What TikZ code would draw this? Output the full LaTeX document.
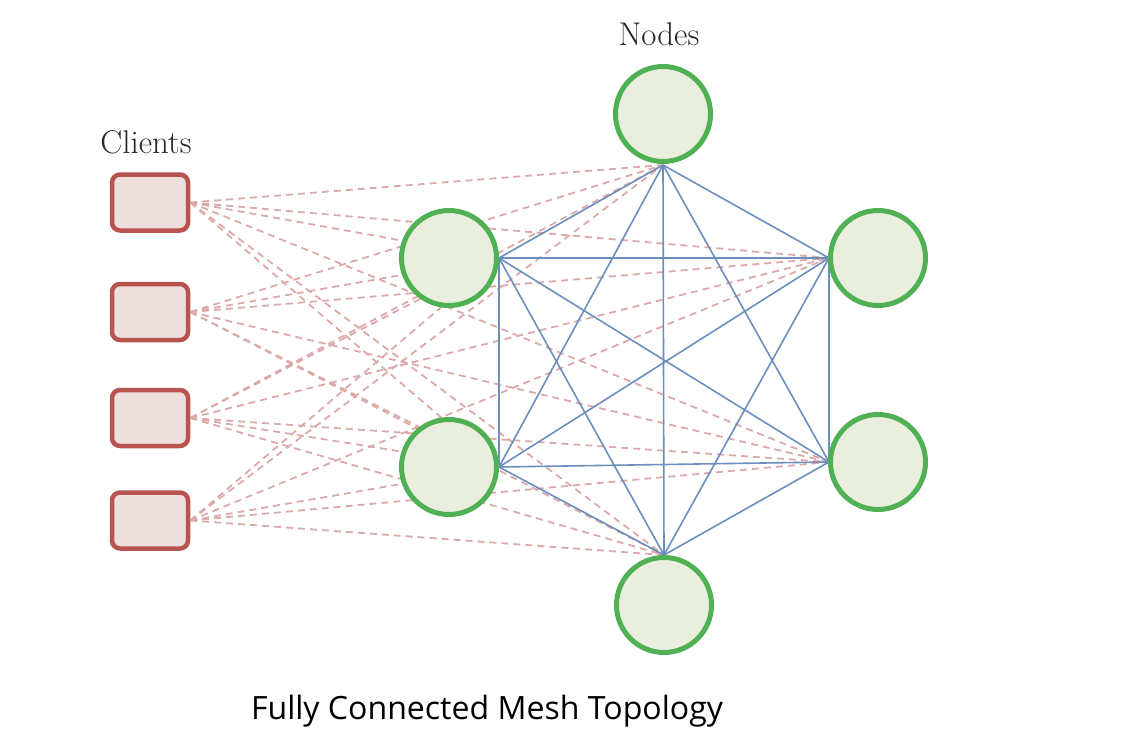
\documentclass[tikz,border=0pt]{standalone}
\usepackage{fontspec}
\newfontfamily\capfont{Open Sans}
\begin{document}
\begin{tikzpicture}[x=1bp,y=-1bp,
  client/.style={draw=clientred,fill=clientfill,line width=4.5bp,rounded corners=8bp,minimum width=76bp,minimum height=56bp,inner sep=0pt},
  meshnode/.style={circle,draw=nodegreen,fill=nodefill,line width=5bp,minimum size=95bp,inner sep=0pt},
  clink/.style={draw=clientred!50,dashed,dash pattern=on 7bp off 5bp,line width=1.8bp},
  mlink/.style={draw=linkblue,line width=1.6bp},
  lbl/.style={font=\fontsize{33}{36}\selectfont,text=black!85,inner sep=0pt}
]
\definecolor{clientred}{RGB}{184,84,80}
\definecolor{clientfill}{RGB}{238,222,222}
\definecolor{nodegreen}{RGB}{80,176,84}
\definecolor{nodefill}{RGB}{234,238,223}
\definecolor{linkblue}{RGB}{108,142,191}
\useasboundingbox (0,0) rectangle (1144,754);
% positions
\coordinate (pT) at (663,114);
\coordinate (pUL) at (449,258);
\coordinate (pUR) at (878,258);
\coordinate (pLL) at (449,467);
\coordinate (pLR) at (878,462);
\coordinate (pB) at (664,605);
% anchors
\coordinate (aT) at (663,165);
\coordinate (aUL) at (499,258);
\coordinate (aUR) at (829,258);
\coordinate (aLL) at (499,467);
\coordinate (aLR) at (829,462);
\coordinate (aB) at (664,555);
% clients
\node[client] (c1) at (150,202.5) {};
\node[client] (c2) at (150,312) {};
\node[client] (c3) at (150,418) {};
\node[client] (c4) at (150,520.5) {};
% dashed links
\foreach \c in {c1,c2,c3,c4}{
  \foreach \n in {aT,aUL,aUR,aLL,aLR,aB}{
    \draw[clink] (\c.east) -- (\n);
  }
}
% mesh links
\draw[mlink] (aT) -- (aUL);
\draw[mlink] (aT) -- (aUR);
\draw[mlink] (aT) -- (aLL);
\draw[mlink] (aT) -- (aLR);
\draw[mlink] (aT) -- (aB);
\draw[mlink] (aUL) -- (aUR);
\draw[mlink] (aUL) -- (aLL);
\draw[mlink] (aUL) -- (aLR);
\draw[mlink] (aUL) -- (aB);
\draw[mlink] (aUR) -- (aLL);
\draw[mlink] (aUR) -- (aLR);
\draw[mlink] (aUR) -- (aB);
\draw[mlink] (aLL) -- (aLR);
\draw[mlink] (aLL) -- (aB);
\draw[mlink] (aLR) -- (aB);
% nodes
\node[meshnode] (nT) at (pT) {};
\node[meshnode] (nUL) at (pUL) {};
\node[meshnode] (nUR) at (pUR) {};
\node[meshnode] (nLL) at (pLL) {};
\node[meshnode] (nLR) at (pLR) {};
\node[meshnode] (nB) at (pB) {};
% labels
\node[lbl] (lc) at (146,142) {Clients};
\node[lbl] (ln) at (659,34) {Nodes};
\node[font=\capfont\fontsize{32.2}{36}\selectfont,inner sep=0pt] (cap) at (487,711) {Fully Connected Mesh Topology};
\end{tikzpicture}
\end{document}
